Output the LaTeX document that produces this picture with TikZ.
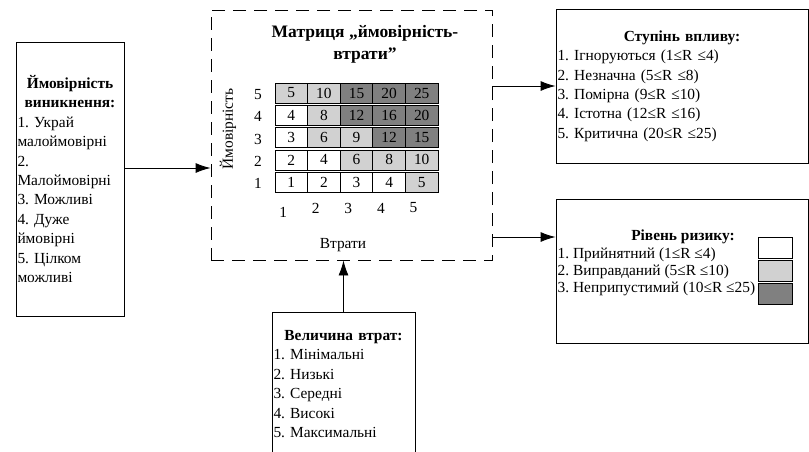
\documentclass[tikz,border=0pt]{standalone}
\usepackage{fontspec}
\setmainfont{Liberation Serif}
\usetikzlibrary{arrows.meta,calc}
\frenchspacing

\definecolor{lowrisk}{gray}{0.82}
\definecolor{highrisk}{gray}{0.5}

\tikzset{
  box/.style={draw,line width=0.9pt,inner sep=1.5pt},
  txt/.style={font=\fontsize{15.4}{19.4}\selectfont},
  cell/.style={draw,line width=0.8pt,minimum width=32.6pt,minimum height=20pt,inner sep=0pt,font=\fontsize{15.4}{19.4}\selectfont},
  arr/.style={line width=0.9pt,-{Latex[length=15pt,width=10pt]}}
}

\begin{document}
\begin{tikzpicture}[x=1pt,y=-1pt]
  \clip (0,0) rectangle (809,451);
  % matrix frame
  \node[draw,dash pattern=on 13pt off 8pt,line width=0.9pt,minimum width=281pt,minimum height=250pt] (mbox) at (351.5,135) {};
  \node[font=\fontsize{17.5}{22}\selectfont\bfseries,align=center] (mtitle) at (365,44) {Матриця „ймовірність-\\втрати”};
  \foreach \c/\r/\v/\f in {1/5/5/lowrisk, 2/5/10/lowrisk, 3/5/15/highrisk, 4/5/20/highrisk, 5/5/25/highrisk,
      1/4/4/white, 2/4/8/lowrisk, 3/4/12/highrisk, 4/4/16/highrisk, 5/4/20/highrisk,
      1/3/3/white, 2/3/6/lowrisk, 3/3/9/lowrisk, 4/3/12/highrisk, 5/3/15/highrisk,
      1/2/2/white, 2/2/4/white, 3/2/6/lowrisk, 4/2/8/lowrisk, 5/2/10/lowrisk,
      1/1/1/white, 2/1/2/white, 3/1/3/white, 4/1/4/white, 5/1/5/lowrisk}
    \node[cell,fill=\f] (c\c\r) at ({258.7+32.6*\c},{204.5-22.3*\r}) {\v};
  \foreach \r in {1,...,5}
    \node[txt] (r\r) at (258,{206-22.3*\r}) {\r};
  \foreach \c/\y in {1/212,2/208,3/208,4/208,5/208}
    \node[txt] (k\c) at ({250.5+32.6*\c},\y) {\c};
  \node[txt,rotate=90] (ylab) at (228,129) {Ймовірність};
  \node[txt] (xlab) at (343,245) {Втрати};

  % left box
  \node[box,txt,text width=105pt,minimum height=274pt,align=left] (prob) at (70,179)
    {{\centering\bfseries Ймовірність\\виникнення:\par}1. Украй\\малоймовірні\\2.\\Малоймовірні\\3. Можливі\\4. Дуже\\ймовірні\\5. Цілком\\можливі};

  % right boxes
  \node[box,txt,text width=249pt,minimum height=154pt,align=left] (infl) at (682,86)
    {{\centering\bfseries Ступінь впливу:\par}1. Ігноруються (1≤R ≤4)\\2. Незначна (5≤R ≤8)\\3. Помірна (9≤R ≤10)\\4. Істотна (12≤R ≤16)\\5. Критична (20≤R ≤25)};
  \node[box,minimum width=252pt,minimum height=144pt] (lvl) at (682,271) {};
  \node[font=\fontsize{15.4}{19.4}\selectfont\bfseries] (lvlhead) at (683,237) {Рівень ризику:};
  \node[font=\fontsize{15.4}{17.3}\selectfont,align=left,anchor=west,inner sep=0pt] (lvltxt) at (557.5,272)
    {1. Прийнятний (1≤R ≤4)\\2. Виправданий (5≤R ≤10)\\3. Неприпустимий (10≤R ≤25)};
  \node[draw,line width=0.8pt,minimum width=34pt,minimum height=21pt,fill=white] (sq1) at (775,247.5) {};
  \node[draw,line width=0.8pt,minimum width=34pt,minimum height=21pt,fill=lowrisk] (sq2) at (775,270.5) {};
  \node[draw,line width=0.8pt,minimum width=34pt,minimum height=21pt,fill=highrisk] (sq3) at (775,293.5) {};

  % bottom box
  \node[box,txt,text width=140pt,minimum height=144pt,align=left] (loss) at (343.5,384)
    {{\centering\bfseries Величина втрат:\par}1. Мінімальні\\2. Низькі\\3. Середні\\4. Високі\\5. Максимальні};

  % arrows
  \draw[arr] ([yshift=11pt]prob.east) -- ([yshift=11pt]prob.east -| mbox.west);
  \draw[arr] (mbox.east |- infl.west) -- (infl.west);
  \draw[arr] ([yshift=34pt]lvl.west -| mbox.east) -- ([yshift=34pt]lvl.west);
  \draw[arr] (loss.north) -- (loss.north |- mbox.south);
\end{tikzpicture}
\end{document}
